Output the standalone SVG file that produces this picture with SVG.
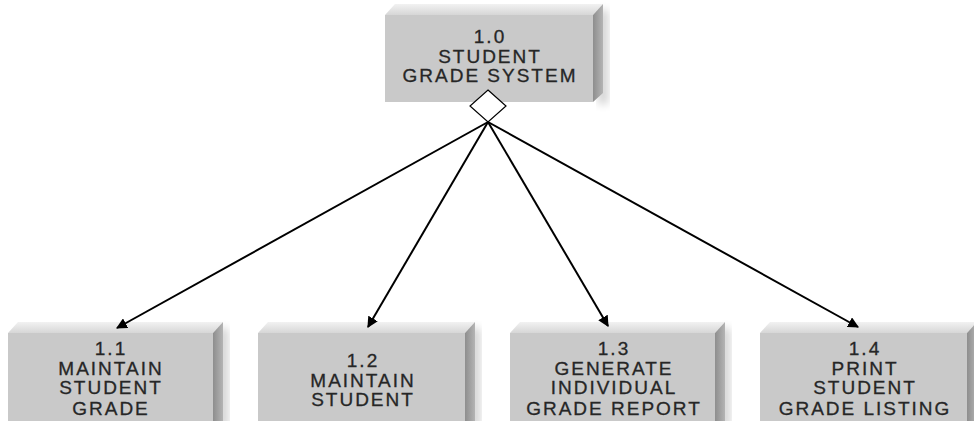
<svg xmlns="http://www.w3.org/2000/svg" width="974" height="421" viewBox="0 0 974 421">
<defs>
<linearGradient id="topg" x1="0" y1="0" x2="0" y2="1"><stop offset="0" stop-color="#f2f2f2"/><stop offset="1" stop-color="#d6d6d6"/></linearGradient>
<linearGradient id="sideg" x1="0" y1="0" x2="1" y2="0"><stop offset="0" stop-color="#8e8e8e"/><stop offset="1" stop-color="#b4b4b4"/></linearGradient>
<filter id="sh" x="-20%" y="-20%" width="140%" height="140%"><feGaussianBlur stdDeviation="4"/></filter>
<marker id="ah" viewBox="0 0 10 10" refX="9" refY="5" markerWidth="11" markerHeight="11" markerUnits="userSpaceOnUse" orient="auto"><path d="M0,0 L10,5 L0,10 z" fill="#000"/></marker>
</defs>
<style>
.face{fill:#c9c9c9}
.top{fill:url(#topg)}
.side{fill:url(#sideg)}
.shadow{fill:#000;opacity:0.18;filter:url(#sh)}
.t{font-family:"Liberation Sans",Arial,sans-serif;font-size:19px;fill:#262626;stroke:#262626;stroke-width:0.3;text-anchor:middle;letter-spacing:2px}
.c{stroke:#000;stroke-width:2;fill:none;marker-end:url(#ah)}
</style>
<rect width="974" height="421" fill="#fff"/>
<g id="n10">
<rect class="shadow" x="598" y="10" width="10" height="94"/>
<polygon class="top" points="385,15 395,4 603,4 593,15"/>
<polygon class="side" points="593,15 603,4 603,93 593,102"/>
<rect class="face" x="385" y="15" width="208" height="87"/>
<text class="t" x="490" y="43">1.0</text>
<text class="t" x="490" y="63">STUDENT</text>
<text class="t" x="490" y="82">GRADE SYSTEM</text>
</g>
<g id="diamond">
<polygon points="488,90 506,106 488,122 470,106" fill="#fff" stroke="#000" stroke-width="1.2"/>
</g>
<g id="n11">
<rect class="shadow" x="218" y="328" width="10" height="100"/>
<polygon class="top" points="8,333 18,322 223,322 213,333"/>
<polygon class="side" points="213,333 223,322 223,430 213,430"/>
<rect class="face" x="8" y="333" width="205" height="97"/>
<text class="t" x="111" y="355">1.1</text>
<text class="t" x="111" y="375">MAINTAIN</text>
<text class="t" x="111" y="394">STUDENT</text>
<text class="t" x="111" y="415">GRADE</text>
</g>
<g id="n12">
<rect class="shadow" x="470" y="328" width="10" height="100"/>
<polygon class="top" points="258,333 268,322 475,322 465,333"/>
<polygon class="side" points="465,333 475,322 475,430 465,430"/>
<rect class="face" x="258" y="333" width="207" height="97"/>
<text class="t" x="363" y="367">1.2</text>
<text class="t" x="363" y="387">MAINTAIN</text>
<text class="t" x="363" y="406">STUDENT</text>
</g>
<g id="n13">
<rect class="shadow" x="720" y="328" width="10" height="100"/>
<polygon class="top" points="510,333 520,322 725,322 715,333"/>
<polygon class="side" points="715,333 725,322 725,430 715,430"/>
<rect class="face" x="510" y="333" width="205" height="97"/>
<text class="t" x="614" y="355">1.3</text>
<text class="t" x="614" y="375">GENERATE</text>
<text class="t" x="614" y="394">INDIVIDUAL</text>
<text class="t" x="614" y="415">GRADE REPORT</text>
</g>
<g id="n14">
<polygon class="top" points="760,333 770,322 977,322 967,333"/>
<polygon class="side" points="967,333 977,322 977,430 967,430"/>
<rect class="face" x="760" y="333" width="207" height="97"/>
<text class="t" x="865" y="355">1.4</text>
<text class="t" x="865" y="375">PRINT</text>
<text class="t" x="865" y="394">STUDENT</text>
<text class="t" x="865" y="415">GRADE LISTING</text>
</g>
<g id="connectors">
<line class="c" x1="488" y1="122" x2="117" y2="328"/>
<line class="c" x1="488" y1="122" x2="368" y2="327"/>
<line class="c" x1="488" y1="122" x2="608" y2="326"/>
<line class="c" x1="488" y1="122" x2="858" y2="327"/>
</g>
</svg>
